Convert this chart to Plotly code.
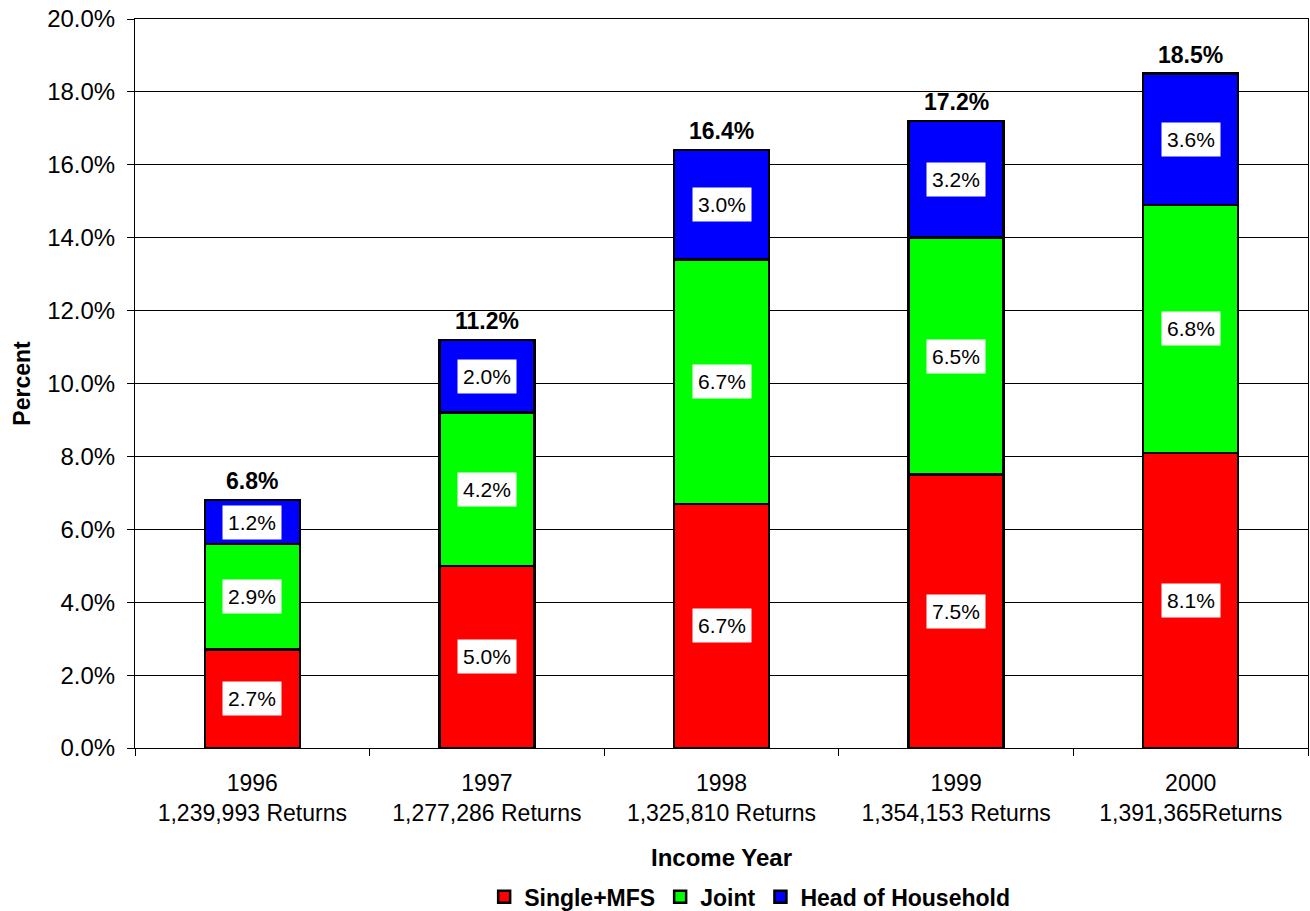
import plotly.graph_objects as go

years = ["1996", "1997", "1998", "1999", "2000"]
returns = ["1,239,993 Returns", "1,277,286 Returns", "1,325,810 Returns", "1,354,153 Returns", "1,391,365Returns"]
single_mfs = [2.7, 5.0, 6.7, 7.5, 8.1]
joint = [2.9, 4.2, 6.7, 6.5, 6.8]
head_hh = [1.2, 2.0, 3.0, 3.2, 3.6]
totals = [6.8, 11.2, 16.4, 17.2, 18.5]

cats = [f"{y}<br>{r}" for y, r in zip(years, returns)]
FONT = "Arial, Liberation Sans, sans-serif"

series = [
    ("Single+MFS", single_mfs, "#ff0000"),
    ("Joint", joint, "#00ff00"),
    ("Head of Household", head_hh, "#0000ff"),
]

fig = go.Figure()
for name, vals, col in series:
    fig.add_trace(go.Bar(
        x=cats, y=vals, name=name,
        marker=dict(color=col, line=dict(color="black", width=2.5)),
    ))

annotations = []
base = [0.0] * len(cats)
for name, vals, col in series:
    for i, v in enumerate(vals):
        annotations.append(dict(
            x=cats[i], y=base[i] + v / 2, text=f"{v:.1f}%", showarrow=False,
            bgcolor="white", borderpad=5,
            font=dict(family=FONT, size=21, color="black"),
        ))
        base[i] += v
for i, t in enumerate(totals):
    annotations.append(dict(
        x=cats[i], y=t, text=f"<b>{t:.1f}%</b>", showarrow=False,
        yanchor="bottom", yshift=4,
        font=dict(family=FONT, size=23, color="black"),
    ))

fig.update_layout(
    barmode="stack",
    bargap=0.595,
    width=1310, height=911,
    margin=dict(l=135, r=2, t=19, b=163, autoexpand=False),
    plot_bgcolor="white", paper_bgcolor="white",
    font=dict(family=FONT, size=23, color="black"),
    annotations=annotations,
    legend=dict(
        orientation="h", x=0.524, xanchor="center",
        yref="paper", y=-0.204, yanchor="middle",
        font=dict(family=FONT, size=23, color="black", weight="bold"),
        traceorder="normal", itemwidth=30,
    ),
    xaxis=dict(
        title=dict(text="<b>Income Year</b>", font=dict(size=24), standoff=24),
        automargin=True,
        showline=True, linecolor="black", linewidth=1, mirror=True,
        ticks="outside", tickson="boundaries", ticklen=7, tickcolor="black",
        tickfont=dict(size=23), ticklabelstandoff=14,
    ),
    yaxis=dict(
        title=dict(text="<b>Percent</b>", font=dict(size=23), standoff=10),
        automargin=False,
        range=[0, 20], dtick=2, tickformat=".1f", ticksuffix="%",
        showgrid=True, gridcolor="black", gridwidth=1,
        showline=True, linecolor="black", linewidth=1, mirror=True,
        ticks="outside", ticklen=7, tickcolor="black",
        tickfont=dict(size=24), zeroline=False, ticklabelstandoff=7,
    ),
)

fig.write_html("out.html", config={"displayModeBar": False},
               post_script="document.body.style.margin='0';")
